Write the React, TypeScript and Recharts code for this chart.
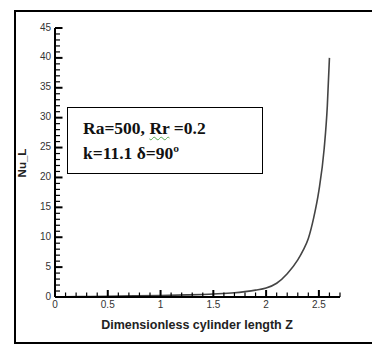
import React from 'react';
import { LineChart, Line, XAxis, YAxis } from 'recharts';

// Z along the cylinder and the local Nusselt number
const zValues = [0, 0.25, 0.5, 0.75, 1, 1.25, 1.5, 1.7, 1.8, 1.9, 2.0, 2.1, 2.2, 2.3, 2.35, 2.4, 2.45, 2.5, 2.55, 2.58, 2.6];
const nuValues = [0, 0.08, 0.12, 0.18, 0.25, 0.35, 0.5, 0.7, 0.9, 1.15, 1.5, 2.3, 3.9, 6.2, 7.8, 9.8, 13.2, 17.8, 24.8, 32, 40];

const xMajor = [0, 0.5, 1, 1.5, 2, 2.5];
const yMajor = [0, 5, 10, 15, 20, 25, 30, 35, 40, 45];
const xTicks = Array.from({ length: 28 }, (_, i) => +(i * 0.1).toFixed(1));
const yTicks = Array.from({ length: 46 }, (_, i) => i);

const data = zValues.map((z, i) => ({ z, nu: nuValues[i] }));

const isMajor = (v: number, list: number[]) => list.some(m => Math.abs(m - v) < 1e-6);
const font = "Arial, 'Liberation Sans', sans-serif";

const renderXTick = (props: any) => {
  const { x, y, payload } = props;
  const major = isMajor(payload.value, xMajor);
  const len = major ? 7 : 4.5;
  const w = major ? 2 : 1.2;
  return (
    <g key={`xt-${payload.value}`}>
      <rect x={x - w / 2} y={y - len} width={w} height={len} fill="#000" />
      {major && (
        <text x={x} y={y + 11} textAnchor="middle" fontSize={10} fill="#333" fontFamily={font}>
          {payload.value}
        </text>
      )}
    </g>
  );
};

const renderYTick = (props: any) => {
  const { x, y, payload } = props;
  const major = isMajor(payload.value, yMajor);
  const len = major ? 7.5 : 5;
  const w = major ? 2 : 1.2;
  return (
    <g key={`yt-${payload.value}`}>
      <rect x={x} y={y - w / 2} width={len} height={w} fill="#000" />
      {major && (
        <text x={x - 4} y={y - 1} textAnchor="end" dominantBaseline="central" fontSize={10} fill="#333" fontFamily={font}>
          {payload.value}
        </text>
      )}
    </g>
  );
};

const App: React.FC = () => {
  return (
    <div style={{ position: 'absolute', left: 0, top: 0, width: 372, height: 347, overflow: 'hidden', background: '#fff' }}>
      <div style={{ position: 'absolute', left: 14, top: 10, width: 380, height: 330, border: '2px solid #000' }} />
      <div style={{ position: 'absolute', left: 0, top: 0 }}>
        <LineChart width={372} height={347} data={data} margin={{ top: 28, right: 32, bottom: 20, left: 10 }}>
          <XAxis
            dataKey="z"
            type="number"
            domain={[0, 2.7]}
            ticks={xTicks}
            interval={0}
            tickSize={0}
            tickMargin={0}
            height={30}
            stroke="#000"
            axisLine={{ stroke: '#000', strokeWidth: 2 }}
            tickLine={false}
            tick={renderXTick}
            label={{
              content: () => (
                <text x={197} y={329} textAnchor="middle" fontSize={12.5} fontWeight="bold" fill="#222" fontFamily={font}>
                  Dimensionless cylinder length Z
                </text>
              ),
            }}
          />
          <YAxis
            type="number"
            domain={[0, 45]}
            ticks={yTicks}
            interval={0}
            tickSize={0}
            tickMargin={0}
            width={45}
            stroke="#000"
            axisLine={{ stroke: '#000', strokeWidth: 2 }}
            tickLine={false}
            tick={renderYTick}
            label={{
              content: () => (
                <text x={26} y={163} transform="rotate(-90 26 163)" textAnchor="middle" fontSize={11.5} fontWeight="bold" fill="#222" fontFamily={font}>
                  Nu_L
                </text>
              ),
            }}
          />
          <Line type="monotone" dataKey="nu" stroke="#444" strokeWidth={1.6} dot={false} isAnimationActive={false} />
        </LineChart>
      </div>
      <div
        style={{
          position: 'absolute',
          left: 67,
          top: 107,
          width: 196,
          height: 67,
          border: '1px solid #000',
          background: '#fff',
          boxSizing: 'border-box',
          fontFamily: "'Times New Roman', 'Liberation Serif', serif",
          fontWeight: 'bold',
          fontSize: 17.5,
          color: '#111',
          lineHeight: '25px',
          paddingLeft: 15,
          paddingTop: 8,
        }}
      >
        <div>
          Ra=500, <span style={{ textDecoration: 'underline wavy #5a5', textDecorationThickness: 1, textUnderlineOffset: 2 }}>Rr</span> =0.2
        </div>
        <div>k=11.1 δ=90º</div>
      </div>
    </div>
  );
};

export default App;
